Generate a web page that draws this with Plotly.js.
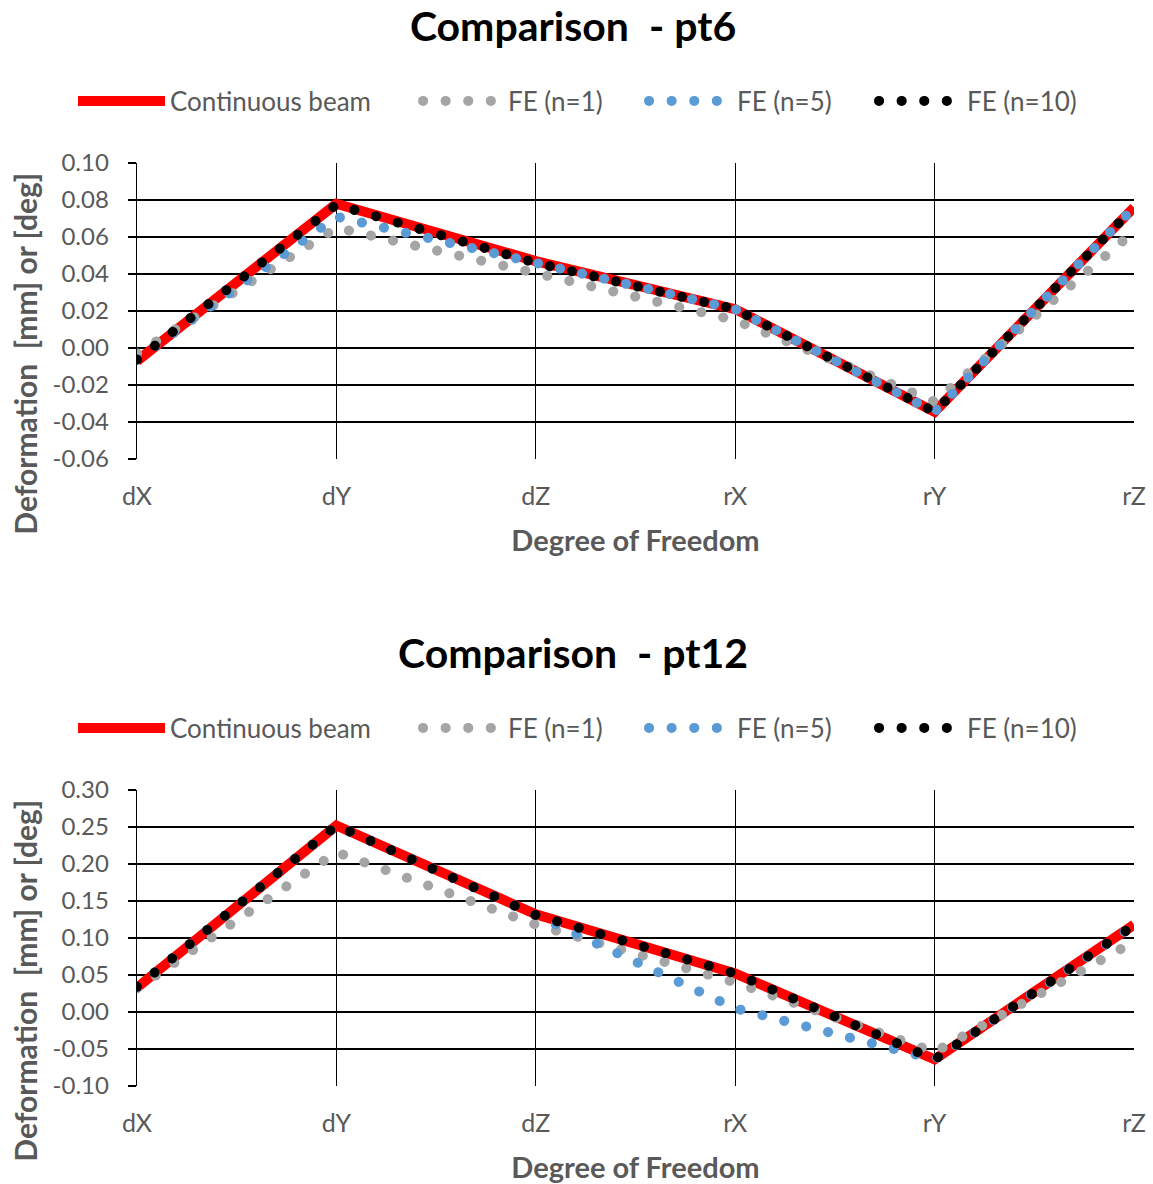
<!DOCTYPE html>
<html>
<head>
<meta charset="utf-8">
<script src="https://cdn.plot.ly/plotly-3.0.1.min.js"></script>
<style>
  html, body { margin: 0; padding: 0; overflow: hidden; background: #fff; width: 1153px; height: 1184px; }
  .chart { position: absolute; left: 0; width: 1153px; height: 627px; }
  #c1 { top: 0; }
  #c2 { top: 627px; }
  .scatterlayer .trace .js-line { stroke-linecap: round; }
  .scatterlayer .trace:first-child .js-line { stroke-linecap: butt; }
  .infolayer .js-line { stroke-linecap: round; }
  .infolayer g.legend .js-line { stroke-linecap: butt; }
</style>
</head>
<body>
<div id="c1" class="chart"></div>
<div id="c2" class="chart"></div>
<script>
// ---- data ----
const categories = ['dX', 'dY', 'dZ', 'rX', 'rY', 'rZ'];
const seriesNames = ['Continuous beam', 'FE (n=1)', 'FE (n=5)', 'FE (n=10)'];

const pt6_continuous = [-0.007, 0.078, 0.047, 0.021, -0.0345, 0.076];
const pt6_fe1        = [-0.003, 0.065, 0.0405, 0.015, -0.029, 0.063];
const pt6_fe5        = [-0.006, 0.071, 0.046, 0.021, -0.0345, 0.076];
const pt6_fe10       = [-0.0063, 0.0775, 0.046, 0.021, -0.0345, 0.076];

const pt12_continuous = [0.033, 0.252, 0.132, 0.052, -0.064, 0.118];
const pt12_fe1        = [0.032, 0.216, 0.118, 0.040, -0.054, 0.095];
const pt12_fe5        = [0.034, 0.252, 0.131, 0.005, -0.064, 0.117];
const pt12_fe10       = [0.034, 0.252, 0.131, 0.052, -0.064, 0.117];

const pt6_yticks  = [-0.06, -0.04, -0.02, 0.00, 0.02, 0.04, 0.06, 0.08, 0.10];
const pt12_yticks = [-0.10, -0.05, 0.00, 0.05, 0.10, 0.15, 0.20, 0.25, 0.30];

// ---- styles ----
const FONT = 'Lato, Carlito, "Liberation Sans", sans-serif';
const GREY_TEXT = '#595959';
const styles = [
  {color: '#FF0000', width: 10, dash: 'solid'},
  {color: '#A5A5A5', width: 10, dash: '0.1px,22.5px'},
  {color: '#5B9BD5', width: 10, dash: '0.1px,22.5px'},
  {color: '#000000', width: 10, dash: '0.1px,22.5px'}
];
const legendIds = ['legend', 'legend2', 'legend3', 'legend4'];
const legendStartPx = [78, 423, 649, 879];
const legendItemWidth = [87, 80, 83, 83];

function makeTraces(seriesList) {
  return seriesList.map((vals, i) => ({
    type: 'scatter',
    mode: 'lines',
    x: categories,
    y: vals,
    name: seriesNames[i],
    legend: legendIds[i],
    line: {color: styles[i].color, width: styles[i].width, dash: styles[i].dash},
    hoverinfo: 'skip'
  }));
}

function makeLayout(title, yticks) {
  const H = 627, W = 1153;
  const layout = {
    width: W,
    height: H,
    margin: {l: 137, r: 19, t: 163, b: 168},
    paper_bgcolor: '#fff',
    plot_bgcolor: '#fff',
    font: {family: FONT, color: GREY_TEXT, size: 24},
    title: {
      text: '<b>' + title + '</b>',
      font: {family: FONT, size: 41, color: '#000'},
      x: 0.497, xanchor: 'center',
      y: 1 - 27 / H, yanchor: 'middle', yref: 'container'
    },
    showlegend: true,
    xaxis: {
      type: 'category',
      range: [0, 5],
      showgrid: true,
      gridcolor: '#000',
      gridwidth: 1.3,
      showline: false,
      zeroline: false,
      ticks: '',
      ticklabelstandoff: 20,
      tickfont: {family: FONT, size: 25, color: GREY_TEXT},
      title: {text: '<b>Degree of Freedom</b>', font: {family: FONT, size: 29, color: GREY_TEXT}, standoff: 21},
      fixedrange: true
    },
    yaxis: {
      range: [yticks[0], yticks[yticks.length - 1]],
      tickvals: yticks,
      ticktext: yticks.map(v => v.toFixed(2)),
      showgrid: true,
      gridcolor: '#000',
      gridwidth: 1.3,
      zeroline: false,
      showline: true,
      linecolor: '#000',
      linewidth: 1.3,
      ticks: 'outside',
      ticklen: 8,
      tickwidth: 1.3,
      tickcolor: '#000',
      ticklabelstandoff: 14,
      tickfont: {family: FONT, size: 24, color: GREY_TEXT},
      fixedrange: true
    },
    annotations: [{
      text: '<b>Deformation  [mm] or [deg]</b>',
      textangle: -90,
      xref: 'paper', yref: 'paper',
      x: (25 - 137) / 997, y: (459.3 - 354) / 296,
      xanchor: 'center', yanchor: 'middle',
      showarrow: false,
      font: {family: FONT, size: 30, color: GREY_TEXT}
    }]
  };
  legendIds.forEach((id, i) => {
    layout[id] = {
      orientation: 'h',
      x: (legendStartPx[i] - 5) / W, xanchor: 'left', xref: 'container',
      y: 1 - 101 / H, yanchor: 'middle', yref: 'container',
      font: {family: FONT, size: 26, color: GREY_TEXT},
      itemwidth: legendItemWidth[i],
      bgcolor: 'rgba(0,0,0,0)'
    };
  });
  return layout;
}

const config = {staticPlot: true, displayModeBar: false};
Plotly.newPlot('c1', makeTraces([pt6_continuous, pt6_fe1, pt6_fe5, pt6_fe10]), makeLayout('Comparison  - pt6', pt6_yticks), config);
Plotly.newPlot('c2', makeTraces([pt12_continuous, pt12_fe1, pt12_fe5, pt12_fe10]), makeLayout('Comparison  - pt12', pt12_yticks), config);
</script>
</body>
</html>
